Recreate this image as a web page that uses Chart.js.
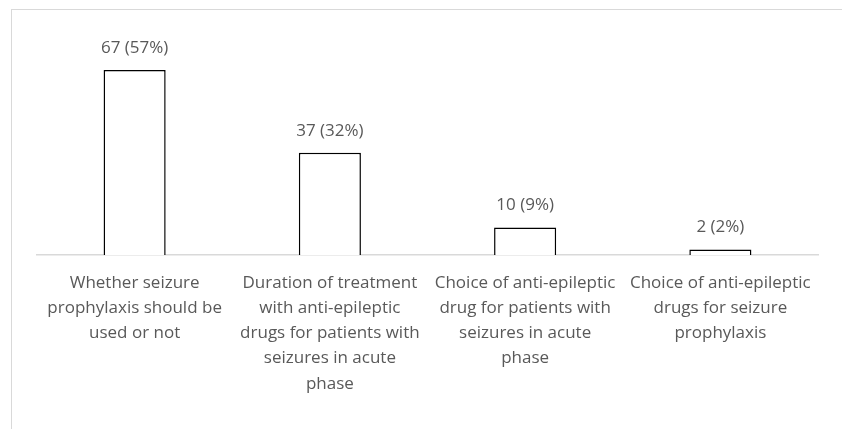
<!DOCTYPE html>
<html>
<head>
<meta charset="utf-8">
<script src="https://cdn.jsdelivr.net/npm/chart.js@4.4.1/dist/chart.umd.min.js"></script>
<style>
  html, body { margin: 0; padding: 0; background: #fff; }
  #wrap { position: absolute; left: 0; top: 0; width: 842px; height: 429px; }
  #frame { position: absolute; left: 11px; top: 9px; right: 0; bottom: 0;
           border-top: 1px solid #d9d9d9; border-left: 1px solid #d9d9d9; }
</style>
</head>
<body>
<div id="wrap">
  <div id="frame"></div>
  <canvas id="chart" width="842" height="429"></canvas>
</div>
<script>
// Data
const categories = [
    ['Whether seizure', 'prophylaxis should be', 'used or not'],
    ['Duration of treatment', 'with anti-epileptic', 'drugs for patients with', 'seizures in acute', 'phase'],
    ['Choice of anti-epileptic', 'drug for patients with', 'seizures in acute', 'phase'],
    ['Choice of anti-epileptic', 'drugs for seizure', 'prophylaxis']
];
const counts = [67, 37, 10, 2];
const percents = [57, 32, 9, 2];

const TEXT = '#595959';
const FONT = "'Open Sans', sans-serif";

// labels drawn above each bar
const barLabels = {
    id: 'barLabels',
    afterDatasetsDraw(chart) {
        const ctx = chart.ctx;
        const meta = chart.getDatasetMeta(0);
        ctx.save();
        ctx.font = '17px ' + FONT;
        ctx.fillStyle = TEXT;
        ctx.textAlign = 'center';
        ctx.textBaseline = 'middle';
        meta.data.forEach((bar, i) => {
            ctx.fillText(counts[i] + ' (' + percents[i] + '%)', bar.x, bar.y - 22);
        });
        ctx.restore();
    }
};

new Chart(document.getElementById('chart').getContext('2d'), {
    type: 'bar',
    data: {
        labels: categories,
        datasets: [{
            data: counts,
            backgroundColor: '#ffffff',
            borderColor: '#000000',
            borderWidth: 1.5,
            barPercentage: 0.53,
            categoryPercentage: 0.6
        }]
    },
    options: {
        responsive: false,
        animation: false,
        layout: { padding: { left: 37, right: 24, top: 34, bottom: 0 } },
        plugins: { legend: { display: false }, tooltip: { enabled: false } },
        scales: {
            x: {
                grid: { display: false, drawTicks: false },
                border: { color: '#d9d9d9', width: 1.5 },
                ticks: {
                    color: TEXT,
                    font: { family: FONT, size: 17, lineHeight: 1.49 },
                    padding: 15,
                    maxRotation: 0,
                    autoSkip: false
                },
                afterFit(scale) { scale.height = 174; }
            },
            y: {
                display: false,
                min: 0,
                max: 80
            }
        }
    },
    plugins: [barLabels]
});
</script>
</body>
</html>
